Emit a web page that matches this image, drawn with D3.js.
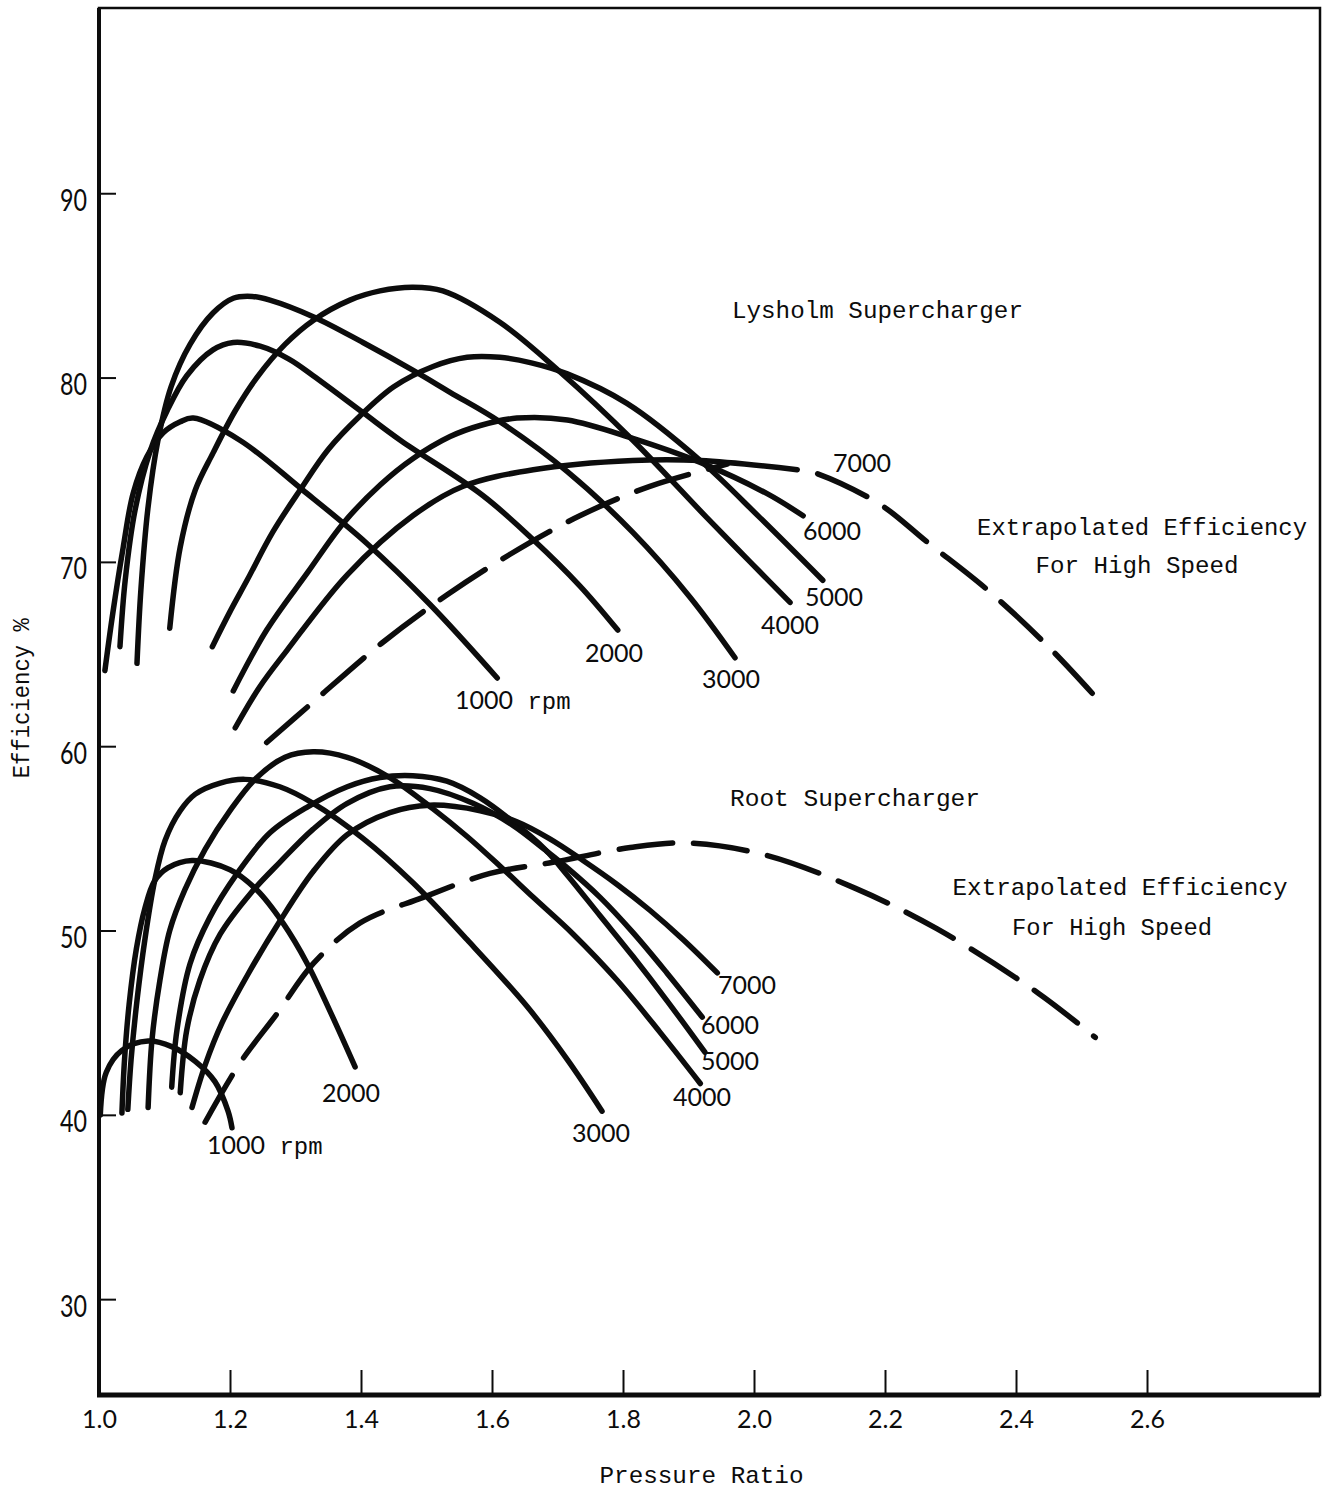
<!DOCTYPE html>
<html>
<head>
<meta charset="utf-8">
<script src="https://cdn.jsdelivr.net/npm/d3@7"></script>
<style>
  html, body { margin: 0; padding: 0; background: #fff; }
  svg { display: block; }
</style>
</head>
<body>
<svg id="chart" width="1326" height="1490"></svg>
<script>
// ---------- data: [pressure ratio, efficiency %] ----------
// Lysholm supercharger, constant-speed lines
const lysholm1000 = [[1.009,64.1],[1.021,67.2],[1.037,70.8],[1.052,73.7],[1.073,75.7],[1.098,77.0],[1.124,77.6],[1.144,77.8],[1.215,76.6],[1.311,73.9],[1.409,71.0],[1.505,67.7],[1.608,63.7]];
const lysholm2000 = [[1.032,65.4],[1.040,69.0],[1.055,72.8],[1.078,76.0],[1.104,78.2],[1.134,80.1],[1.174,81.5],[1.205,81.9],[1.246,81.7],[1.290,81.0],[1.327,80.1],[1.403,78.1],[1.460,76.6],[1.586,73.6],[1.663,71.2],[1.734,68.7],[1.792,66.3]];
const lysholm3000 = [[1.058,64.5],[1.064,68.5],[1.075,73.0],[1.090,76.6],[1.110,79.5],[1.139,81.8],[1.174,83.5],[1.205,84.3],[1.234,84.4],[1.261,84.2],[1.327,83.3],[1.403,81.9],[1.479,80.4],[1.536,79.2],[1.612,77.6],[1.715,74.9],[1.815,71.6],[1.902,68.1],[1.971,64.8]];
const lysholm4000 = [[1.108,66.4],[1.124,70.8],[1.147,73.9],[1.174,75.9],[1.208,78.2],[1.241,80.0],[1.284,81.8],[1.327,83.1],[1.383,84.2],[1.429,84.7],[1.479,84.9],[1.525,84.7],[1.612,83.0],[1.704,80.3],[1.815,76.6],[1.928,72.4],[1.994,70.0],[2.055,67.8]];
const lysholm5000 = [[1.173,65.4],[1.200,67.3],[1.226,69.0],[1.265,71.6],[1.307,73.9],[1.350,76.1],[1.398,77.9],[1.450,79.5],[1.510,80.6],[1.562,81.1],[1.612,81.1],[1.660,80.8],[1.715,80.2],[1.806,78.6],[1.918,75.5],[2.009,72.4],[2.105,69.0]];
const lysholm6000 = [[1.205,63.0],[1.256,66.3],[1.318,69.4],[1.373,72.1],[1.430,74.2],[1.479,75.6],[1.536,76.8],[1.582,77.4],[1.638,77.8],[1.715,77.7],[1.815,76.7],[1.918,75.4],[2.020,73.7],[2.075,72.5]];
const lysholm7000 = [[1.208,61.0],[1.245,63.2],[1.287,65.2],[1.379,69.3],[1.479,72.5],[1.556,74.1],[1.663,75.0],[1.815,75.5],[1.918,75.5],[2.066,75.0]];
// Lysholm extrapolated efficiency for high speed (dashed)
const lysholmExtrapLow  = [[1.256,60.2],[1.327,62.4],[1.432,65.6],[1.531,68.2],[1.627,70.4],[1.734,72.5],[1.841,74.1],[1.959,75.3]];
const lysholmExtrapHigh = [[2.066,75.0],[2.087,74.9],[2.189,73.2],[2.267,71.0],[2.359,68.4],[2.455,65.2],[2.536,62.1]];

// Root supercharger, constant-speed lines
const root1000 = [[1.002,40.0],[1.011,42.3],[1.035,43.5],[1.075,44.0],[1.111,43.7],[1.147,42.9],[1.177,41.8],[1.197,40.2],[1.203,39.3]];
const root2000 = [[1.035,40.1],[1.039,43.0],[1.046,46.0],[1.057,49.0],[1.070,51.2],[1.085,52.7],[1.105,53.4],[1.142,53.8],[1.200,53.3],[1.241,52.2],[1.281,50.4],[1.318,48.2],[1.353,45.6],[1.391,42.6]];
const root3000 = [[1.044,40.3],[1.049,43.0],[1.058,46.2],[1.070,49.5],[1.085,52.7],[1.101,54.9],[1.124,56.5],[1.147,57.4],[1.185,58.0],[1.223,58.2],[1.276,57.8],[1.327,56.9],[1.403,55.0],[1.479,52.6],[1.562,49.5],[1.653,45.9],[1.715,43.0],[1.768,40.2]];
const root4000 = [[1.075,40.4],[1.081,44.1],[1.093,47.3],[1.108,50.0],[1.131,52.2],[1.162,54.4],[1.200,56.5],[1.238,58.2],[1.284,59.4],[1.327,59.7],[1.379,59.4],[1.444,58.3],[1.510,56.6],[1.562,55.1],[1.612,53.5],[1.663,51.8],[1.724,49.8],[1.791,47.3],[1.856,44.5],[1.918,41.7]];
const root5000 = [[1.111,41.5],[1.119,44.6],[1.139,48.2],[1.169,50.7],[1.211,53.1],[1.261,55.3],[1.318,56.7],[1.379,57.8],[1.429,58.3],[1.479,58.4],[1.531,58.1],[1.582,57.2],[1.632,55.9],[1.681,54.4],[1.715,53.0],[1.765,50.8],[1.815,48.6],[1.867,46.2],[1.925,43.4]];
const root6000 = [[1.124,41.2],[1.134,44.6],[1.154,47.3],[1.185,49.8],[1.231,52.0],[1.276,53.7],[1.327,55.5],[1.379,56.9],[1.444,57.8],[1.505,57.7],[1.571,56.9],[1.632,55.7],[1.680,54.4],[1.715,53.4],[1.765,51.8],[1.815,49.9],[1.867,47.7],[1.921,45.3]];
const root7000 = [[1.142,40.4],[1.162,42.7],[1.188,45.0],[1.227,47.6],[1.276,50.5],[1.327,53.2],[1.379,55.2],[1.444,56.4],[1.505,56.8],[1.582,56.5],[1.638,55.9],[1.687,55.0],[1.739,53.8],[1.791,52.5],[1.841,51.1],[1.892,49.5],[1.944,47.7]];
// Root extrapolated efficiency for high speed (dashed)
const rootExtrap = [[1.162,39.6],[1.215,42.8],[1.272,45.5],[1.327,48.2],[1.398,50.4],[1.495,51.8],[1.597,53.1],[1.693,53.7],[1.811,54.5],[1.898,54.75],[2.017,54.1],[2.154,52.3],[2.279,50.1],[2.434,46.6],[2.521,44.2]];

// speed labels and axis ticks
const speeds = ["1000", "2000", "3000", "4000", "5000", "6000", "7000"];
const xTickValues = [1.0, 1.2, 1.4, 1.6, 1.8, 2.0, 2.2, 2.4, 2.6];
const xTickLabels = ["1.0", "1.2", "1.4", "1.6", "1.8", "2.0", "2.2", "2.4", "2.6"];
const yTickValues = [30, 40, 50, 60, 70, 80, 90];
const yTickLabels = ["30", "40", "50", "60", "70", "80", "90"];

// ---------- setup ----------
const LETTER = "Lato, 'DejaVu Sans', sans-serif";
const TYPE = "'Liberation Mono', 'DejaVu Sans Mono', monospace";
const INK = "#0c0c0c";

const svg = d3.select("#chart");
const x = d3.scaleLinear().domain([1.0, 2.8641]).range([99, 1320]);
const y = d3.scaleLinear().domain([24.8, 100.05]).range([1395, 8]);

const line = d3.line()
  .x(d => x(d[0]))
  .y(d => y(d[1]))
  .curve(d3.curveCatmullRom.alpha(0.5));

// ---------- axes ----------
const yAxis = d3.axisLeft(y)
  .tickValues(yTickValues)
  .tickFormat((d, i) => yTickLabels[i])
  .tickSize(-17)
  .tickPadding(12);
const gy = svg.append("g").attr("transform", `translate(${x(1.0)},0)`).call(yAxis);
gy.select(".domain").remove();
gy.selectAll(".tick line").attr("stroke", INK).attr("stroke-width", 2);
gy.selectAll(".tick text")
  .attr("dy", 17)
  .attr("fill", INK)
  .style("font-family", LETTER)
  .style("font-weight", 400)
  .style("font-size", "30px")
  .attr("textLength", 27)
  .attr("lengthAdjust", "spacingAndGlyphs");

const xAxis = d3.axisBottom(x)
  .tickValues(xTickValues)
  .tickFormat((d, i) => xTickLabels[i])
  .tickSize(-25)
  .tickPadding(15);
const gx = svg.append("g").attr("transform", `translate(0,${y(24.8)})`).call(xAxis);
gx.select(".domain").remove();
gx.selectAll(".tick line").attr("stroke", INK).attr("stroke-width", 2);
gx.selectAll(".tick text")
  .attr("fill", INK)
  .style("font-family", LETTER)
  .style("font-weight", 400)
  .style("font-size", "25px");

// frame
const [x0, x1] = x.range();
const [yb, yt] = y.range();
svg.append("rect")
  .attr("x", x0).attr("y", yt)
  .attr("width", x1 - x0).attr("height", yb - yt)
  .attr("fill", "none").attr("stroke", INK).attr("stroke-width", 2.5);
svg.append("line").attr("x1", x0).attr("x2", x0).attr("y1", yt).attr("y2", yb)
  .attr("stroke", INK).attr("stroke-width", 4);
svg.append("line").attr("x1", x0 - 2).attr("x2", x1).attr("y1", yb).attr("y2", yb)
  .attr("stroke", INK).attr("stroke-width", 5);

// ---------- curves ----------
const solid = [
  lysholm1000, lysholm2000, lysholm3000, lysholm4000, lysholm5000, lysholm6000, lysholm7000,
  root1000, root2000, root3000, root4000, root5000, root6000, root7000
];
const dashed = [
  { pts: lysholmExtrapLow, offset: 0 },
  { pts: lysholmExtrapHigh, offset: 54 },
  { pts: rootExtrap, offset: 0 }
];

const curves = svg.append("g")
  .attr("fill", "none")
  .attr("stroke", INK)
  .attr("stroke-width", 5.5)
  .attr("stroke-linecap", "round")
  .attr("stroke-linejoin", "round");

curves.selectAll("path.speed")
  .data(solid)
  .join("path")
  .attr("class", "speed")
  .attr("d", line);

curves.selectAll("path.extrap")
  .data(dashed)
  .join("path")
  .attr("class", "extrap")
  .attr("d", d => line(d.pts))
  .attr("stroke-dasharray", "54,21")
  .attr("stroke-dashoffset", d => d.offset);

// ---------- speed labels (left edge, vertical centre in data units) ----------
const lysholmLabelAt = [[1.5435,62.5],[1.742,65.05],[1.9206,63.64],[2.0107,66.57],[2.0779,68.09],[2.0748,71.67],[2.1206,75.36]];
const rootLabelAt    = [[1.1649,38.37],[1.3405,41.19],[1.7221,39.02],[1.8763,40.98],[1.9191,42.93],[1.9191,44.88],[1.9450,47.05]];

function speedLabels(anchors) {
  anchors.forEach((a, i) => {
    const t = svg.append("text")
      .attr("x", x(a[0]))
      .attr("y", y(a[1]))
      .attr("dy", "0.36em")
      .attr("fill", INK)
      .style("font-family", LETTER)
      .style("font-weight", 400)
      .style("font-size", "25px");
    t.append("tspan").text(speeds[i]);
    if (i === 0) {
      t.append("tspan")
        .style("font-family", TYPE)
        .style("font-weight", 400)
        .style("font-size", "24px")
        .text(" rpm");
    }
  });
}
speedLabels(lysholmLabelAt);
speedLabels(rootLabelAt);

// ---------- titles and notes (typewriter), centre x / baseline in data units ----------
const notes = [
  { text: "Lysholm Supercharger",    at: [2.1885, 83.25], width: 291 },
  { text: "Extrapolated Efficiency", at: [2.5924, 71.45], width: 330 },
  { text: "For High Speed",          at: [2.5847, 69.40], width: 203 },
  { text: "Root Supercharger",       at: [2.1542, 56.75], width: 250 },
  { text: "Extrapolated Efficiency", at: [2.5588, 51.95], width: 335 },
  { text: "For High Speed",          at: [2.5466, 49.78], width: 200 }
];
svg.selectAll("text.note")
  .data(notes)
  .join("text")
  .attr("class", "note")
  .attr("x", d => x(d.at[0]))
  .attr("y", d => y(d.at[1]))
  .attr("text-anchor", "middle")
  .attr("fill", INK)
  .attr("textLength", d => d.width)
  .attr("lengthAdjust", "spacingAndGlyphs")
  .style("font-family", TYPE)
  .style("font-size", "24px")
  .text(d => d.text);

// axis titles
svg.append("text")
  .attr("x", (x0 + x1) / 2 - 8)
  .attr("y", yb + 88)
  .attr("text-anchor", "middle")
  .attr("fill", INK)
  .attr("textLength", 204)
  .attr("lengthAdjust", "spacingAndGlyphs")
  .style("font-family", TYPE)
  .style("font-size", "24px")
  .text("Pressure Ratio");

svg.append("text")
  .attr("transform", `translate(${x0 - 70},${y(62.6)}) rotate(-90)`)
  .attr("text-anchor", "middle")
  .attr("fill", INK)
  .attr("textLength", 160)
  .attr("lengthAdjust", "spacingAndGlyphs")
  .style("font-family", TYPE)
  .style("font-size", "23px")
  .text("Efficiency %");
</script>
</body>
</html>
